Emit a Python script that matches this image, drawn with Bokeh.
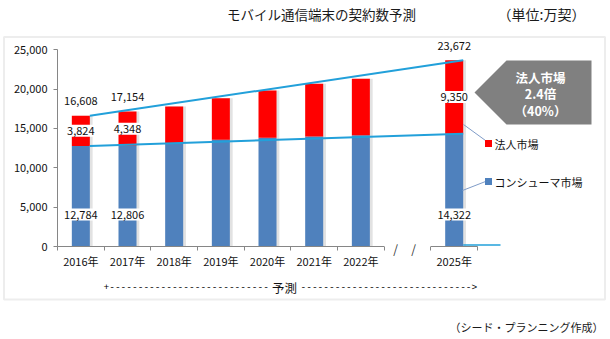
from bokeh.plotting import figure
from bokeh.models import (Range1d, FixedTicker, NumeralTickFormatter, Label,
                          BoxAnnotation, ColumnDataSource)
from bokeh.embed import file_html
from bokeh.resources import INLINE

# ---------------- data ----------------
years = ["2016年", "2017年", "2018年", "2019年", "2020年", "2021年", "2022年", "2025年"]
consumer = [12784, 12806, 13130, 13560, 13815, 13980, 14150, 14322]
corporate = [3824, 4348, 4660, 5290, 6015, 6695, 7160, 9350]
y_ticks = [0, 5000, 10000, 15000, 20000, 25000]
series_names = ["コンシューマ市場", "法人市場"]
labeled = [0, 1, 7]          # categories that carry data labels
callout_lines = ["法人市場", "2.4倍", "（40%）"]
title_text = "モバイル通信端末の契約数予測"
unit_text = "（単位:万契）"
source_text = "（シード・プランニング作成）"
forecast_text = "予測"

totals = [c + k for c, k in zip(consumer, corporate)]

# ---------------- layout helpers ----------------
GAP = 7                      # slot left empty (broken axis)
xs = [(i if i < GAP else i + 1) + 0.5 for i in range(len(years))]
n_slots = len(years) + 1

X0_PX, SLOT_PX = 57, 46.67
Y0_PX, V_PER_PX = 246, 25000 / 196.7
CW, CH = 610, 339


def ux(px):
    return (px - X0_PX) / SLOT_PX


def vy(py):
    return (Y0_PX - py) * V_PER_PX


FONT = "Noto Sans CJK JP"
BLUE, RED, CYAN, GRAY = "#4F81BD", "#FF0000", "#22A0DA", "#868686"
W = 0.386

p = figure(width=CW, height=CH, output_backend="svg", toolbar_location=None,
           x_range=Range1d(ux(0), ux(CW)), y_range=Range1d(vy(CH), vy(0)),
           min_border_left=0, min_border_right=0, min_border_top=0,
           min_border_bottom=0)
p.outline_line_color = None
p.grid.visible = False
p.background_fill_color = "white"
p.border_fill_color = "white"

# outer frame box
p.add_layout(BoxAnnotation(left=ux(3.5), right=ux(604.5), top=vy(36.5), bottom=vy(299),
                           fill_alpha=0, line_color="#C4C4C4", line_width=2,
                           level="underlay"))

src = ColumnDataSource(dict(x=xs, xs_sh=[x + 0.06 for x in xs], consumer=consumer,
                            totals=totals, zero=[0] * len(xs)))

# bar shadows
p.vbar(x="xs_sh", bottom="zero", top="totals", width=W, source=src,
       fill_color="#D6D6D6", fill_alpha=0.7, line_color=None)
blue = p.vbar(x="x", bottom="zero", top="consumer", width=W, source=src,
              fill_color=BLUE, line_color=None)
red = p.vbar(x="x", bottom="consumer", top="totals", width=W, source=src,
             fill_color=RED, line_color=None)

# trend lines
p.line(x=[xs[0] + W / 2, xs[-1] + W / 2], y=[totals[0], totals[-1]],
       line_color=CYAN, line_width=2)
p.line(x=[xs[0] + W / 2, xs[-1] + W / 2], y=[consumer[0], consumer[-1]],
       line_color=CYAN, line_width=2)
p.line(x=[xs[-1] + W / 2, ux(500)], y=[vy(244.5), vy(244.5)],
       line_color=CYAN, line_width=1.5)

# broken x-axis line
p.segment(x0=[0, GAP + 1], x1=[GAP, n_slots], y0=[0, 0], y1=[0, 0],
          line_color=GRAY, line_width=1)

# axes (fixed inside the full-canvas frame)
xa = p.xaxis[0]
xa.fixed_location = 0
xa.ticker = FixedTicker(ticks=xs, minor_ticks=list(range(n_slots + 1)))
xa.major_label_overrides = {x: y for x, y in zip(xs, years)}
xa.axis_line_color = None
xa.major_tick_line_color = None
xa.major_tick_out = 0
xa.major_tick_in = 0
xa.minor_tick_line_color = GRAY
xa.minor_tick_out = 4
xa.minor_tick_in = 0
xa.major_label_standoff = 2
xa.major_label_text_font = FONT
xa.major_label_text_font_size = "11px"
xa.major_label_text_color = "#111111"

ya = p.yaxis[0]
ya.fixed_location = 0
ya.bounds = (0, 25000)
ya.ticker = FixedTicker(ticks=y_ticks, minor_ticks=[])
ya.formatter = NumeralTickFormatter(format="0,0")
ya.axis_line_color = GRAY
ya.major_tick_line_color = GRAY
ya.major_tick_out = 4
ya.major_tick_in = 0
ya.minor_tick_line_color = None
ya.major_label_standoff = 6
ya.major_label_text_font = FONT
ya.major_label_text_font_size = "11px"
ya.major_label_text_color = "#111111"

# data labels
for i in labeled:
    for txt, yv in ((f"{totals[i]:,}", totals[i] + 14.5 * V_PER_PX),
                    (f"{corporate[i]:,}", consumer[i] + corporate[i] / 2),
                    (f"{consumer[i]:,}", 32 * V_PER_PX)):
        p.add_layout(Label(x=xs[i], y=yv, text=txt, text_align="center",
                           text_baseline="middle", text_font=FONT,
                           text_font_size="11px", text_color="#111111",
                           background_fill_color="white", padding=2))

# callout
p.patch(x=[ux(474), ux(506), ux(591), ux(591), ux(506)],
        y=[vy(92), vy(60), vy(60), vy(124), vy(124)],
        fill_color="#808080", line_color=None)
for k, (txt, py) in enumerate(zip(callout_lines, [76.7, 93.3, 110])):
    p.add_layout(Label(x=ux(540), y=vy(py), text=txt, text_align="center",
                       text_baseline="middle", text_font=FONT,
                       text_font_size="12.5px", text_font_style="bold",
                       text_color="white"))

# legend with leader lines
leg_y = [vy(143), vy(181)]
p.segment(x0=[ux(463), ux(462)], y0=[vy(124), vy(190)],
          x1=[ux(485), ux(485)], y1=[vy(140), vy(181)],
          line_color="#7F9CC8", line_width=1)
p.scatter(x=[ux(488)] * 2, y=leg_y, marker="square", size=7,
          fill_color=[RED, BLUE], line_color=None)
for name, yy in zip([series_names[1], series_names[0]], leg_y):
    p.add_layout(Label(x=ux(494), y=yy, text=name, text_align="left",
                       text_baseline="middle", text_font=FONT,
                       text_font_size="11px", text_color="#111111"))

# break marks
for px in (395, 413):
    p.add_layout(Label(x=ux(px), y=vy(248), text="/", text_align="center",
                       text_baseline="middle", text_font=FONT,
                       text_font_size="12px", text_color="#333333"))

# forecast arrow line
p.add_layout(Label(x=ux(284), y=vy(286.7), text=forecast_text, text_align="center",
                   text_baseline="middle", text_font=FONT, text_font_size="12.5px",
                   text_color="#111111"))
p.add_layout(Label(x=ux(103), y=vy(286.7), text="+" + "-" * 28, text_align="left",
                   text_baseline="middle", text_font="Liberation Mono",
                   text_font_size="9.5px", text_color="#000000"))
p.add_layout(Label(x=ux(300), y=vy(286.7), text="-" * 30 + ">", text_align="left",
                   text_baseline="middle", text_font="Liberation Mono",
                   text_font_size="9.5px", text_color="#000000"))

# titles
p.add_layout(Label(x=ux(321), y=vy(13.5), text=title_text, text_align="center",
                   text_baseline="middle", text_font=FONT, text_font_size="13.5px",
                   text_color="#1a1a1a"))
p.add_layout(Label(x=ux(541), y=vy(13.5), text=unit_text, text_align="center",
                   text_baseline="middle", text_font=FONT, text_font_size="14px",
                   text_color="#1a1a1a"))
p.add_layout(Label(x=ux(603), y=vy(326), text=source_text, text_align="right",
                   text_baseline="middle", text_font=FONT, text_font_size="11px",
                   text_color="#1a1a1a"))

open("out.html", "w").write(file_html(p, INLINE))
